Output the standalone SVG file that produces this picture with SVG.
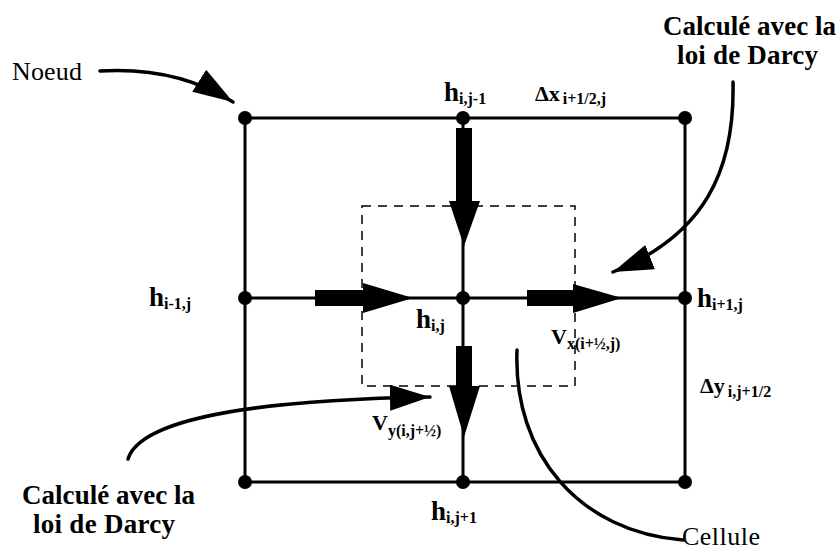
<svg xmlns="http://www.w3.org/2000/svg" width="838" height="558" viewBox="0 0 838 558">
<style>
.grid{stroke:#000;stroke-width:3;fill:none}
.dash{stroke:#000;stroke-width:1.5;fill:none;stroke-dasharray:9 7}
.lead{stroke:#000;stroke-width:3.5;fill:none;stroke-linecap:round}
.node{fill:#000}
.b{font-family:"Liberation Serif",serif;font-weight:bold;fill:#000}
.r{font-family:"Liberation Serif",serif;fill:#000}
.h{font-size:27px}
.sub{font-size:16px}
</style>
<defs>
<marker id="ah" viewBox="0 0 40 26" refX="40" refY="13" markerWidth="40" markerHeight="26" markerUnits="userSpaceOnUse" orient="auto"><path d="M0,0 L40,13 L0,26 z" fill="#000"/></marker>
</defs>
<rect width="838" height="558" fill="#fff"/>
<g id="grid-lines">
<path class="grid" d="M245,118 H685 M245,298 H685 M245,482 H685 M245,118 V482 M463,118 V482 M685,118 V482"/>
</g>
<g id="cell-boundary">
<rect class="dash" x="362" y="206" width="213" height="180"/>
</g>
<g id="nodes">
<circle class="node" cx="245" cy="118" r="7"/>
<circle class="node" cx="463" cy="118" r="7"/>
<circle class="node" cx="685" cy="118" r="7"/>
<circle class="node" cx="245" cy="298" r="7"/>
<circle class="node" cx="463" cy="298" r="7"/>
<circle class="node" cx="685" cy="298" r="7"/>
<circle class="node" cx="245" cy="482" r="7"/>
<circle class="node" cx="463" cy="482" r="7"/>
<circle class="node" cx="685" cy="482" r="7"/>
</g>
<g id="flux-arrows" fill="#000">
<path d="M456,128 H472 V201 H480 L464,246 L449,201 H456 Z"/>
<path d="M315,290 H363 V283 L413,298 L363,313 V306 H315 Z"/>
<path d="M527,290 H573 V284 L622,298 L573,313 V306 H527 Z"/>
<path d="M456,346 H472 V386 H480 L464,437 L449,386 H456 Z"/>
</g>
<g id="connectors">
<path class="lead" d="M100,71 C150,68 195,78 233,102" marker-end="url(#ah)"/>
<path class="lead" d="M733,82 C735,170 705,235 613,272" marker-end="url(#ah)"/>
<path class="lead" d="M128,459 C140,420 250,400 430,397" marker-end="url(#ah)"/>
<path class="lead" d="M517,350 C513,455 580,532 683,540"/>
</g>
<g id="labels">
<text class="r" x="12" y="80" font-size="26" textLength="70">Noeud</text>
<text class="b" x="663" y="35" font-size="27" textLength="173">Calculé avec la</text>
<text class="b" x="677" y="64" font-size="27" textLength="141">loi de Darcy</text>
<text class="b" x="22" y="504" font-size="27" textLength="173">Calculé avec la</text>
<text class="b" x="33" y="533" font-size="27" textLength="142">loi de Darcy</text>
<text class="r" x="682" y="545" font-size="26" textLength="78">Cellule</text>
<text class="b" x="444" y="101"><tspan class="h">h</tspan><tspan class="sub" dy="3">i,j-1</tspan></text>
<text class="b" x="149" y="306"><tspan class="h">h</tspan><tspan class="sub" dy="3">i-1,j</tspan></text>
<text class="b" x="697" y="307"><tspan class="h">h</tspan><tspan class="sub" dy="3">i+1,j</tspan></text>
<text class="b" x="416" y="328"><tspan class="h">h</tspan><tspan class="sub" dy="3">i,j</tspan></text>
<text class="b" x="431" y="520"><tspan class="h">h</tspan><tspan class="sub" dy="3">i,j+1</tspan></text>
<text class="b" x="535" y="101" font-size="22">Δx<tspan class="sub" dy="3" dx="3">i+1/2,j</tspan></text>
<text class="b" x="700" y="393" font-size="22">Δy<tspan class="sub" dy="4" dx="3">i,j+1/2</tspan></text>
<text class="b" x="551" y="344" font-size="22">V<tspan class="sub" dy="5">x(i+½,j)</tspan></text>
<text class="b" x="372" y="430" font-size="22">V<tspan class="sub" dy="6">y(i,j+½)</tspan></text>
</g>
</svg>
